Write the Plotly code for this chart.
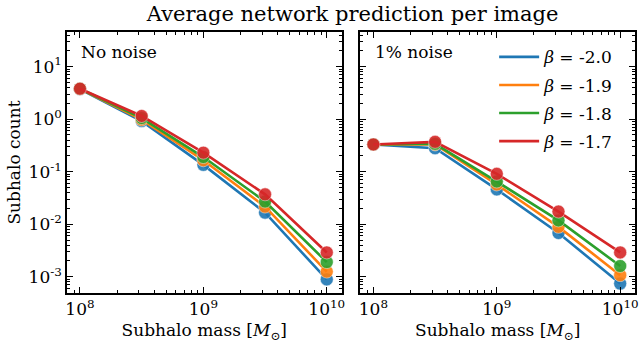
import plotly.graph_objects as go

MASS = [1e8, 10**8.5, 1e9, 10**9.5, 1e10]
BETAS = ["-2.0", "-1.9", "-1.8", "-1.7"]
COLORS = ["#1f77b4", "#ff7f0e", "#2ca02c", "#d62728"]

# average predicted count, no noise
NO_NOISE = {
    "-2.0": [3.75, 0.92, 0.135, 0.0166, 0.00089],
    "-1.9": [3.78, 0.98, 0.165, 0.0216, 0.00125],
    "-1.8": [3.80, 1.05, 0.19, 0.027, 0.0019],
    "-1.7": [3.80, 1.15, 0.23, 0.037, 0.0029],
}
# average predicted count, 1% noise
ONE_PCT_NOISE = {
    "-2.0": [0.33, 0.28, 0.046, 0.0068, 0.00074],
    "-1.9": [0.33, 0.33, 0.057, 0.0089, 0.00107],
    "-1.8": [0.33, 0.34, 0.065, 0.0118, 0.0016],
    "-1.7": [0.33, 0.37, 0.091, 0.0174, 0.0029],
}

X_TICKVALS = [1e8, 1e9, 1e10]
X_TICKTEXT = ["10<sup>8</sup>", "10<sup>9</sup>", "10<sup>10</sup>"]
Y_TICKVALS = [1e1, 1e0, 1e-1, 1e-2, 1e-3]
Y_TICKTEXT = ["10<sup>1</sup>", "10<sup>0</sup>", "10<sup>-1</sup>",
              "10<sup>-2</sup>", "10<sup>-3</sup>"]

FONT = "DejaVu Serif, Liberation Serif, serif"
FS = 17

fig = go.Figure()
for panel, data in ((1, NO_NOISE), (2, ONE_PCT_NOISE)):
    xa = "x" if panel == 1 else "x2"
    ya = "y" if panel == 1 else "y2"
    for beta, color in zip(BETAS, COLORS):
        fig.add_trace(
            go.Scatter(
                x=MASS,
                y=data[beta],
                mode="lines",
                line={"color": color, "width": 2.6},
                name=f"<i>β</i> = {beta}",
                legendgroup=beta,
                showlegend=(panel == 2),
                xaxis=xa,
                yaxis=ya,
            )
        )
        fig.add_trace(
            go.Scatter(
                x=MASS,
                y=data[beta],
                mode="markers",
                marker={
                    "size": 13,
                    "color": color,
                    "opacity": 0.9,
                    "line": {"color": "rgba(255,255,255,0.5)", "width": 1},
                },
                legendgroup=beta,
                showlegend=False,
                hoverinfo="skip",
                xaxis=xa,
                yaxis=ya,
            )
        )

axis_common = dict(
    type="log",
    showgrid=False,
    zeroline=False,
    showline=True,
    linecolor="black",
    linewidth=1.5,
    mirror="ticks",
    ticks="inside",
    ticklen=6,
    tickwidth=1,
    tickcolor="black",
    minor={"ticks": "inside", "ticklen": 3, "tickcolor": "black",
           "dtick": "D1", "showgrid": False},
    tickfont={"family": FONT, "size": FS, "color": "black"},
)
x_range = [7.895, 10.12]
y_range = [-3.31, 1.66]
x_title = {"text": "Subhalo mass [<i>M</i><sub>⊙</sub>]",
           "font": {"family": FONT, "size": FS}, "standoff": 6}

fig.update_layout(
    width=640,
    height=348,
    margin={"l": 67, "r": 2, "t": 32, "b": 55},
    paper_bgcolor="white",
    plot_bgcolor="white",
    font={"family": FONT, "size": FS, "color": "black"},
    title={
        "text": "Average network prediction per image",
        "x": 0.551,
        "xanchor": "center",
        "y": 0.962,
        "yanchor": "middle",
        "font": {"family": FONT, "size": 21, "color": "black"},
    },
    xaxis=dict(axis_common, domain=[0, 0.4834], range=x_range,
               tickvals=X_TICKVALS, ticktext=X_TICKTEXT, title=x_title),
    xaxis2=dict(axis_common, domain=[0.5166, 1], range=x_range,
                tickvals=X_TICKVALS, ticktext=X_TICKTEXT, title=x_title),
    yaxis=dict(axis_common, anchor="x", range=y_range,
               tickvals=Y_TICKVALS, ticktext=Y_TICKTEXT,
               title={"text": "Subhalo count",
                      "font": {"family": FONT, "size": FS}, "standoff": 4}),
    yaxis2=dict(axis_common, anchor="x2", range=y_range,
                tickvals=Y_TICKVALS, showticklabels=False),
    legend={
        "x": 0.752,
        "xanchor": "left",
        "y": 0.972,
        "yanchor": "top",
        "bgcolor": "rgba(0,0,0,0)",
        "font": {"family": FONT, "size": FS},
        "tracegroupgap": 3,
        "itemwidth": 40,
    },
    annotations=[
        dict(text="No noise", xref="x domain", yref="y domain", x=0.045,
             y=0.925, xanchor="left", yanchor="middle", showarrow=False,
             font={"family": FONT, "size": FS}),
        dict(text="1% noise", xref="x2 domain", yref="y2 domain", x=0.045,
             y=0.925, xanchor="left", yanchor="middle", showarrow=False,
             font={"family": FONT, "size": FS}),
    ],
)

fig.write_html(
    "out.html",
    config={"displayModeBar": False},
    post_script="document.body.style.margin='0';",
)
